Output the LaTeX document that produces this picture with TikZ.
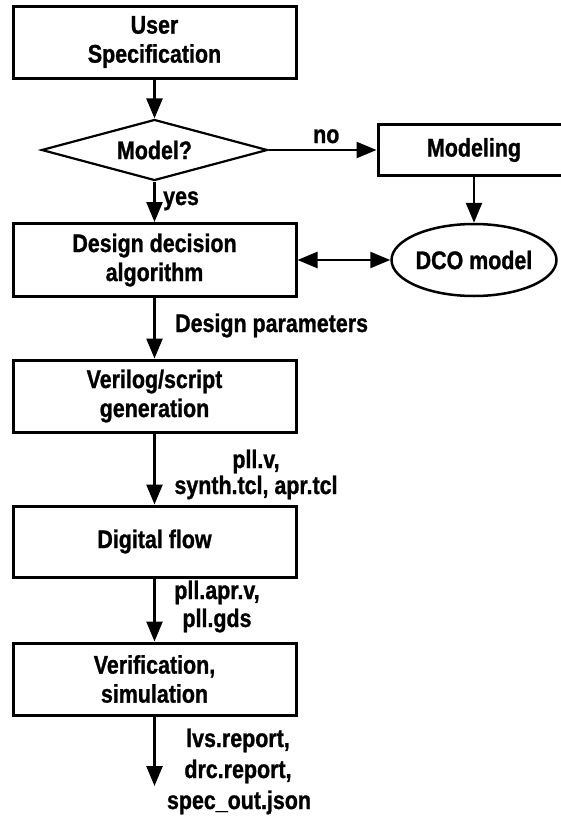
\documentclass[tikz,border=0pt]{standalone}
\usepackage{fontspec}
\setmainfont{Liberation Sans}[FakeStretch=0.84,BoldFeatures={FakeBold=1}]
\usetikzlibrary{shapes.geometric,arrows.meta}
\begin{document}
\begin{tikzpicture}[x=1pt,y=-1pt,
  txt/.style={font=\fontsize{25.5}{29}\selectfont\bfseries},
  box/.style={txt,draw,line width=3pt,rectangle,minimum width=283pt,inner sep=0pt,align=center},
  dia/.style={txt,draw,line width=2.2pt,diamond,aspect=3.7,minimum width=226pt,minimum height=61pt,inner sep=0pt},
  ell/.style={txt,draw,line width=2.5pt,ellipse,minimum width=162pt,minimum height=72pt,inner sep=0pt},
  lab/.style={txt,inner sep=0pt},
  arr/.style={line width=2.5pt,-{Triangle[length=20pt,width=16pt]}},
  darr/.style={line width=2.5pt,{Triangle[length=20pt,width=16pt]}-{Triangle[length=20pt,width=16pt]}}
]
\useasboundingbox (0,0) rectangle (561,817);
\clip (0,0) rectangle (561,817);
\fill[white] (0,0) rectangle (561,817);

\node[box,minimum height=72pt] (us) at (154.5,42) {User\\Specification};
\node[dia] (model) at (154.5,150) {Model?};
\node[box,minimum width=192pt,minimum height=51pt] (modeling) at (474,150) {Modeling};
\node[box,minimum height=73pt] (design) at (154.5,260) {Design decision\\algorithm};
\node[ell] (dco) at (474,260) {DCO model};
\node[box,minimum height=72pt] (verilog) at (154.5,396) {Verilog/script\\generation};
\node[box,minimum height=71pt] (digital) at (154.5,541.5) {Digital flow};
\node[box,minimum height=72pt] (verif) at (154.5,679) {Verification,\\simulation};
\coordinate (endc) at (154.5,786);

\draw[arr] (us.south) -- (model.north);
\draw[arr] (model.east) -- (modeling.west);
\draw[arr] (model.south) -- (design.north);
\draw[arr] (modeling.south) -- (dco.north);
\draw[darr] (design.east) -- (dco.west);
\draw[arr] (design.south) -- (verilog.north);
\draw[arr] (verilog.south) -- (digital.north);
\draw[arr] (digital.south) -- (verif.north);
\draw[arr] (verif.south) -- (endc);

\node[lab,anchor=base west] (lno) at (313,143) {no};
\node[lab,anchor=base west] (lyes) at (163,205) {yes};
\node[lab,anchor=base west] (ldp) at (175,332) {Design parameters};
\node[lab,anchor=base] (lv1) at (256,468) {pll.v,};
\node[lab,anchor=base] (lv2) at (256,494) {synth.tcl, apr.tcl};
\node[lab,anchor=base] (ld1) at (217,599) {pll.apr.v,};
\node[lab,anchor=base] (ld2) at (217,627) {pll.gds};
\node[lab,anchor=base] (lr1) at (238,747) {lvs.report,};
\node[lab,anchor=base] (lr2) at (238,778) {drc.report,};
\node[lab,anchor=base] (lr3) at (239,809) {spec\_out.json};
\end{tikzpicture}
\end{document}
